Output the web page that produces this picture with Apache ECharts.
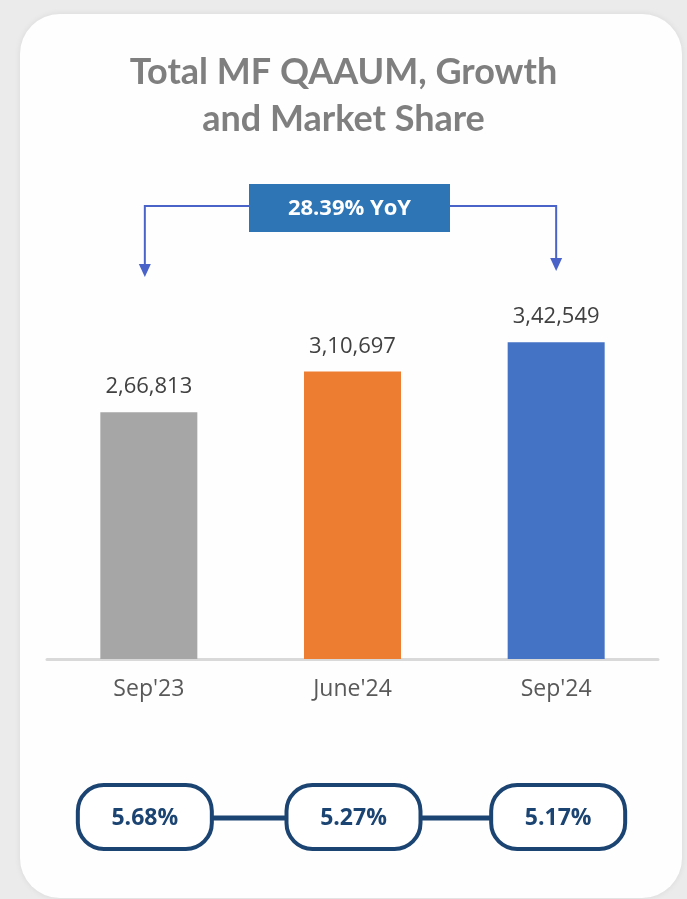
<!DOCTYPE html>
<html>
<head>
<meta charset="utf-8">
<script src="https://cdn.jsdelivr.net/npm/echarts@6/dist/echarts.min.js"></script>
<style>
  html, body { margin: 0; padding: 0; background: #ebebeb; }
  #chart { width: 687px; height: 899px; }
</style>
</head>
<body>
<div id="chart"></div>
<script>
// data
const categories = ["Sep'23", "June'24", "Sep'24"]
const aumValues = [266813, 310697, 342549]
const barColors = ['#a6a6a6', '#ed7d31', '#4472c4']
const marketShare = ['5.68%', '5.27%', '5.17%']
const yoyLabel = '28.39% YoY'

// indian style grouping, 342549 -> 3,42,549
function fmtIndian(n) {
  let s = String(n)
  let last3 = s.slice(-3)
  let rest = s.slice(0, -3)
  if (rest) rest = rest.replace(/\B(?=(\d{2})+(?!\d))/g, ',') + ','
  return rest + last3
}

const myChart = echarts.init(document.getElementById('chart'), null, {renderer: 'canvas'})

const option = {
  animation: false,
  title: {
    text: 'Total MF QAAUM, Growth\nand Market Share',
    left: 'center',
    top: 44,
    textStyle: {
      fontFamily: 'Lato',
      fontWeight: 'bold',
      fontSize: 36,
      lineHeight: 47,
      color: '#7f7f7f'
    }
  },
  grid: {
    left: 47,
    right: 29,
    top: 289,
    bottom: 240
  },
  xAxis: {
    type: 'category',
    data: categories,
    axisTick: { show: false },
    axisLine: { lineStyle: { color: '#d9d9d9', width: 3 } },
    axisLabel: {
      margin: 19,
      fontFamily: 'Open Sans',
      fontSize: 23,
      color: '#595959'
    }
  },
  yAxis: {
    type: 'value',
    min: 0,
    max: 400000,
    show: false,
    splitLine: { show: false }
  },
  series: [{
    type: 'bar',
    barWidth: 97,
    data: aumValues.map((v, i) => ({ value: v, itemStyle: { color: barColors[i] } })),
    label: {
      show: true,
      position: 'top',
      distance: 14,
      fontFamily: 'Open Sans',
      fontSize: 22,
      color: '#404040',
      formatter: p => fmtIndian(p.value)
    }
  }]
}

myChart.setOption(option)

// extra drawing: card, yoy callout and market share pills
function drawGraphics() {
  const xs = categories.map(c => myChart.convertToPixel({xAxisIndex: 0}, c))
  const arrowColor = '#4a63c9'
  const navy = '#1b4472'
  const lineY = 206
  const boxL = 249, boxR = 450
  const elems = []

  elems.push({
    type: 'rect', z: -10, silent: true,
    shape: { x: 20, y: 14, width: 662, height: 884, r: 40 },
    style: { fill: '#fefefe', shadowBlur: 6, shadowColor: 'rgba(0,0,0,0.08)' }
  })

  // connector lines of yoy callout
  const lx = xs[0] - 4, rx = xs[2]
  elems.push({
    type: 'polyline', silent: true,
    shape: { points: [[boxL, lineY], [lx, lineY], [lx, 264]] },
    style: { stroke: arrowColor, lineWidth: 2, fill: null }
  })
  elems.push({
    type: 'polyline', silent: true,
    shape: { points: [[boxR, lineY], [rx, lineY], [rx, 258]] },
    style: { stroke: arrowColor, lineWidth: 2, fill: null }
  })
  elems.push({
    type: 'polygon', silent: true,
    shape: { points: [[lx - 6, 264], [lx + 6, 264], [lx, 277]] },
    style: { fill: arrowColor }
  })
  elems.push({
    type: 'polygon', silent: true,
    shape: { points: [[rx - 6, 258], [rx + 6, 258], [rx, 271]] },
    style: { fill: arrowColor }
  })
  elems.push({
    type: 'rect', silent: true,
    shape: { x: boxL, y: 184, width: boxR - boxL, height: 48 },
    style: { fill: '#2e75b6' }
  })
  elems.push({
    type: 'text', silent: true,
    x: (boxL + boxR) / 2, y: 209,
    style: {
      text: yoyLabel, fill: '#fff',
      font: 'bold 22px "Open Sans"',
      align: 'center', verticalAlign: 'middle'
    }
  })

  // market share pills
  const pillW = 134, pillH = 64, pillY = 785
  const cx = [xs[0] - 4, xs[1] + 1, xs[2] + 2]
  for (let i = 0; i < cx.length - 1; i++) {
    elems.push({
      type: 'line', silent: true,
      shape: { x1: cx[i] + pillW / 2, y1: 818, x2: cx[i + 1] - pillW / 2, y2: 818 },
      style: { stroke: navy, lineWidth: 5 }
    })
  }
  marketShare.forEach((t, i) => {
    elems.push({
      type: 'rect', silent: true,
      shape: { x: cx[i] - pillW / 2, y: pillY, width: pillW, height: pillH, r: 26 },
      style: { fill: '#fff', stroke: navy, lineWidth: 4 }
    })
    elems.push({
      type: 'text', silent: true,
      x: cx[i], y: pillY + pillH / 2 + 1,
      style: {
        text: t, fill: navy,
        font: 'bold 23px "Open Sans"',
        align: 'center', verticalAlign: 'middle'
      }
    })
  })

  myChart.setOption({ graphic: elems })
}

drawGraphics()
</script>
</body>
</html>
